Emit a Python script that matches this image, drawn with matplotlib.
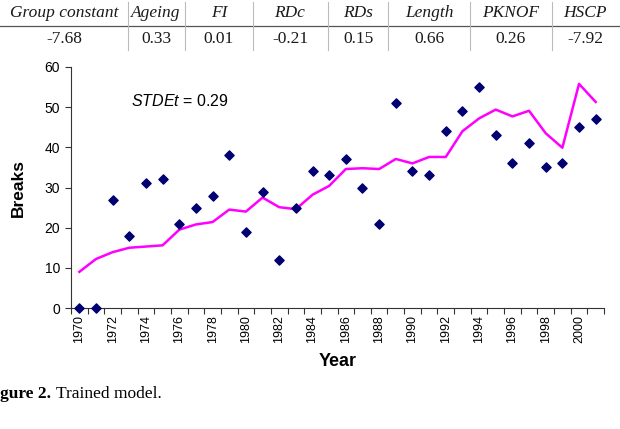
import matplotlib
matplotlib.use("Agg")
import matplotlib.pyplot as plt
from matplotlib.lines import Line2D
import numpy as np

# ---- data ----
years = list(range(1970, 2002))
observed = [0, 0, 27, 18, 31, 32, 21, 25, 28, 38, 19, 29, 12, 25, 34, 33,
            37, 30, 21, 51, 34, 33, 44, 49, 55, 43, 36, 41, 35, 36, 45, 47]
model = [9.0, 12.2, 13.9, 15.0, 15.3, 15.6, 19.5, 20.8, 21.4, 24.5, 24.0, 27.5,
         25.1, 24.6, 28.2, 30.4, 34.6, 34.8, 34.6, 37.1, 36.0, 37.6, 37.6, 44.0,
         47.2, 49.4, 47.7, 49.1, 43.5, 39.9, 55.8, 51.3]
table_headers = ["Group constant", "Ageing", "FI", "RDc", "RDs", "Length", "PKNOF", "HSCP"]
table_values = ["-7.68", "0.33", "0.01", "-0.21", "0.15", "0.66", "0.26", "-7.92"]
y_ticks = [0, 10, 20, 30, 40, 50, 60]

plt.rcParams["mathtext.fontset"] = "custom"
plt.rcParams["mathtext.it"] = "Liberation Sans:italic"
plt.rcParams["mathtext.rm"] = "Liberation Sans"

W, H = 620, 429
fig = plt.figure(figsize=(W / 100, H / 100), dpi=100)

def fx(px):
    return px / W

def fy(py):
    return 1 - py / H

# ---- table ----
centers = [64, 156, 219, 290, 358, 429, 511, 585]
seps = [128, 185, 253, 328, 388, 470, 552]
serif = ["Liberation Serif", "DejaVu Serif"]
for c, h, v in zip(centers, table_headers, table_values):
    fig.text(fx(c), fy(13), h, ha="center", va="center", fontsize=12.5,
             family=serif, style="italic", color="#1a1a1a")
    fig.text(fx(c), fy(39), v, ha="center", va="center", fontsize=12.5,
             family=serif, color="#1a1a1a")
fig.add_artist(Line2D([fx(0), fx(620)], [fy(26), fy(26)], color="#555555", lw=0.9))
for s in seps:
    fig.add_artist(Line2D([fx(s), fx(s)], [fy(2), fy(50)], color="#bbbbbb", lw=0.8))

# ---- chart ----
left, right, top, bottom = 71, 604, 67, 308
ax = fig.add_axes([fx(left), fy(bottom), fx(right) - fx(left), fy(top) - fy(bottom)])
x = np.arange(len(years))
ax.plot(x, model, color="#FF00FF", lw=1.8, zorder=2)
ax.scatter(x, observed, marker="D", s=22, color="#000070", zorder=3, clip_on=False)

ax.set_xlim(-0.5, len(years) - 0.5)
ax.set_ylim(0, 60)
for sp in ["top", "right"]:
    ax.spines[sp].set_visible(False)
for sp in ["left", "bottom"]:
    ax.spines[sp].set_color("#333333")
    ax.spines[sp].set_linewidth(0.8)

sans = ["Liberation Sans", "DejaVu Sans"]
ax.set_yticks(y_ticks)
ax.set_yticklabels([str(t) for t in y_ticks], fontsize=10, family=sans)
ax.tick_params(axis="y", direction="out", length=4, width=0.8, color="#333333", pad=4)

ax.set_xticks(x[::2])
ax.set_xticklabels([str(y) for y in years[::2]], rotation=90, fontsize=9, family=sans)
ax.set_xticks(np.arange(-0.5, len(years), 1.0), minor=True)
ax.tick_params(axis="x", which="major", length=0, pad=5)
ax.tick_params(axis="x", which="minor", direction="out", length=4, width=0.8, color="#333333")

fig.text(fx(131), fy(101), r"$\it{STDEt}$ = 0.29", fontsize=11.5, family=sans,
         va="center", ha="left")

fig.text(fx(18), fy(188), "Breaks", rotation=90, ha="center", va="center",
         fontsize=12.5, fontweight="bold", family=sans)
fig.text(fx(338), fy(362), "Year", ha="center", va="center",
         fontsize=13, fontweight="bold", family=sans)

# ---- caption ----
fig.text(fx(0), fy(394), "gure 2.", ha="left", va="center", fontsize=12.5,
         fontweight="bold", family=serif)
fig.text(fx(56), fy(394), "Trained model.", ha="left", va="center", fontsize=12.5, family=serif)

fig.savefig("out.png", dpi=100)
